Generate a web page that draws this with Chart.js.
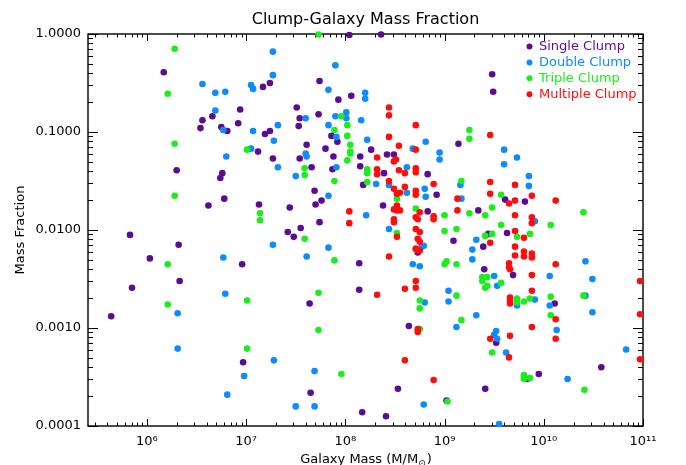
<!DOCTYPE html>
<html>
<head>
<meta charset="utf-8">
<script src="https://cdn.jsdelivr.net/npm/chart.js@4.4.1/dist/chart.umd.min.js"></script>
<style>
  body { margin: 0; background: #fff; }
</style>
</head>
<body>
<canvas id="massChart" width="686" height="465"></canvas>
<script>
const X_MIN = 2.55e5, X_MAX = 1e11;
const Y_MIN = 1e-4, Y_MAX = 1;
const xTickVals = [1e6, 1e7, 1e8, 1e9, 1e10, 1e11];
const xTickLabels = ['10⁶', '10⁷', '10⁸', '10⁹', '10¹⁰', '10¹¹'];
const yTickVals = [1e-4, 1e-3, 1e-2, 1e-1, 1];
const yTickLabels = ['0.0001', '0.0010', '0.0100', '0.1000', '1.0000'];

const groups = ['Single Clump', 'Double Clump', 'Triple Clump', 'Multiple Clump'];
const groupColors = ['#5c0c94', '#0d8bff', '#1ced1c', '#ff0d0d'];

// log10(galaxy mass) and log10(mass fraction)
const singleLogM = [
  6.17, 7.17, 7.24, 6.94, 6.66, 6.56, 6.54, 6.75, 6.81, 6.92,
  7.19, 7.24, 7.12, 7.27, 6.30, 6.76, 6.74, 6.62, 6.78, 7.13,
  5.83, 6.32, 6.03, 6.96, 6.33, 5.85, 5.64, 6.97, 7.65, 8.53,
  9.41, 8.17, 8.41, 9.02, 8.14, 7.64, 8.64, 8.04, 8.36, 7.74,
  7.93, 8.06, 7.51, 7.54, 7.53, 7.73, 7.86, 7.92, 7.61, 7.80,
  7.54, 7.88, 8.15, 8.26, 8.42, 8.49, 9.14, 7.66, 7.87, 8.15,
  8.39, 8.18, 8.83, 8.92, 7.69, 7.76, 7.70, 7.44, 8.38, 8.83,
  7.74, 9.09, 7.42, 7.55, 7.48, 8.73, 8.14, 9.48, 9.49, 9.61,
  9.81, 9.34, 9.63, 9.44, 9.39, 9.40, 9.69, 10.11, 9.52, 10.58,
  9.83, 9.95
];
const singleLogF = [
  -0.39, -0.54, -0.50, -0.77, -0.84, -0.88, -0.96, -0.95, -0.99, -0.91,
  -1.02, -0.99, -1.20, -1.27, -1.39, -1.42, -1.47, -1.75, -1.68, -1.74,
  -2.05, -2.15, -2.29, -2.35, -2.52, -2.59, -2.88, -3.35, -3.66, -3.62,
  -3.62, -3.86, -3.90, -3.74, -2.61, -2.75, -2.98, -0.01, -0.005, -0.48,
  -0.67, -0.63, -0.75, -0.86, -0.94, -0.82, -1.04, -1.10, -1.13, -1.17,
  -1.27, -1.25, -1.25, -1.18, -1.23, -1.23, -1.12, -1.36, -1.38, -1.35,
  -1.42, -1.54, -1.43, -1.64, -1.60, -1.70, -1.74, -1.77, -1.75, -1.81,
  -1.92, -2.11, -2.02, -1.98, -2.07, -2.23, -2.34, -0.41, -0.59, -1.69,
  -1.71, -1.80, -2.03, -2.04, -2.17, -2.40, -2.46, -2.75, -3.15, -3.40,
  -3.52, -3.47
];

const doubleLogM = [
  6.56, 6.69, 6.79, 7.27, 7.27, 7.05, 7.07, 6.69, 6.77, 7.07,
  7.32, 7.28, 7.05, 6.80, 7.32, 7.27, 6.77, 6.79, 6.31, 6.31,
  7.28, 6.98, 6.81, 7.50, 7.69, 8.79, 9.55, 9.04, 8.80, 9.04,
  9.12, 7.69, 7.90, 7.83, 8.20, 8.20, 7.60, 7.90, 8.01, 8.01,
  8.16, 7.83, 7.91, 8.22, 7.60, 7.61, 8.68, 8.81, 8.95, 8.95,
  7.91, 8.62, 7.50, 8.44, 8.31, 8.62, 8.80, 8.81, 9.16, 9.17,
  7.83, 8.21, 8.44, 8.77, 8.79, 7.83, 7.61, 8.68, 8.75, 9.60,
  9.73, 9.60, 9.85, 9.85, 9.91, 9.32, 9.28, 9.28, 10.42, 9.50,
  10.06, 10.49, 9.53, 9.91, 10.42, 9.73, 10.06, 10.49, 9.32, 10.13,
  9.52, 9.50, 9.53, 9.62, 10.83, 10.24
];
const doubleLogF = [
  -0.51, -0.60, -0.59, -0.18, -0.42, -0.52, -0.56, -0.78, -0.98, -0.99,
  -0.93, -1.09, -1.17, -1.25, -1.36, -2.15, -2.28, -2.65, -2.85, -3.21,
  -3.33, -3.49, -3.68, -3.80, -3.80, -3.78, -3.98, -2.62, -2.74, -2.73,
  -2.99, -3.44, -0.32, -0.57, -0.60, -0.66, -0.86, -0.84, -0.80, -0.86,
  -0.88, -0.93, -1.05, -1.08, -1.22, -1.25, -1.17, -1.10, -1.21, -1.28,
  -1.36, -1.36, -1.45, -1.54, -1.53, -1.62, -1.58, -1.66, -1.54, -1.68,
  -1.65, -1.85, -1.99, -2.17, -2.16, -2.18, -2.27, -2.35, -2.37, -1.18,
  -1.26, -1.33, -1.45, -1.55, -1.91, -2.10, -2.20, -2.30, -2.32, -2.47,
  -2.47, -2.50, -2.57, -2.71, -2.67, -2.77, -2.77, -2.84, -2.87, -3.02,
  -3.03, -3.07, -3.11, -3.25, -3.22, -3.52
];

const tripleLogM = [
  6.28, 6.21, 6.28, 7.01, 6.28, 7.14, 7.14, 6.21, 7.01, 6.21,
  7.01, 9.03, 10.41, 7.73, 9.12, 8.75, 8.75, 9.17, 8.75, 7.73,
  7.96, 7.73, 7.96, 8.02, 7.89, 9.25, 9.25, 8.02, 8.05, 8.05,
  8.05, 8.02, 7.59, 8.22, 7.59, 7.89, 8.22, 8.22, 9.17, 8.52,
  8.71, 9.00, 9.25, 8.52, 9.00, 9.12, 7.59, 8.71, 7.89, 9.00,
  9.02, 9.12, 9.57, 9.41, 9.48, 10.40, 9.57, 10.07, 9.73, 9.86,
  9.41, 9.48, 9.38, 9.43, 9.38, 9.41, 9.43, 9.57, 9.73, 9.86,
  10.07, 10.40, 9.73, 9.80, 10.07, 9.48, 9.80, 9.80, 9.86
];
const tripleLogF = [
  -0.15, -0.61, -1.12, -1.18, -1.65, -1.83, -1.90, -2.35, -2.72, -2.76,
  -3.21, -3.75, -3.63, -2.64, -2.67, -2.72, -2.80, -2.92, -3.01, -3.02,
  -3.47, -0.005, -0.84, -0.93, -0.98, -0.98, -1.07, -1.04, -1.13, -1.20,
  -1.22, -1.29, -1.37, -1.38, -1.44, -1.50, -1.42, -1.51, -1.50, -1.68,
  -1.78, -1.85, -1.83, -2.03, -2.01, -1.99, -2.09, -2.20, -2.31, -2.35,
  -2.32, -2.35, -1.64, -1.85, -1.77, -1.82, -1.95, -1.95, -2.07, -2.04,
  -2.06, -2.04, -2.48, -2.48, -2.52, -2.59, -2.57, -2.54, -2.70, -2.70,
  -2.68, -2.67, -2.74, -2.73, -2.87, -3.25, -3.48, -3.52, -3.51
];

const multipleLogM = [
  8.89, 8.32, 8.60, 8.71, 8.71, 8.73, 8.73, 8.60, 8.44, 8.44,
  8.71, 8.44, 8.54, 8.32, 8.51, 8.49, 8.71, 8.32, 8.71, 8.71,
  8.32, 8.54, 8.60, 8.44, 8.89, 8.60, 8.49, 8.52, 8.55, 8.71,
  8.71, 9.13, 8.52, 8.49, 8.52, 8.55, 8.75, 8.71, 8.73, 8.89,
  8.89, 9.13, 8.04, 8.04, 8.49, 8.49, 8.52, 8.71, 8.75, 8.73,
  8.75, 8.71, 8.73, 8.75, 8.44, 9.46, 9.46, 9.71, 9.46, 9.88,
  9.65, 9.71, 10.12, 9.71, 9.88, 9.88, 9.71, 9.80, 9.46, 9.71,
  9.80, 9.80, 9.88, 9.88, 9.71, 9.65, 9.65, 9.66, 10.12, 9.88,
  10.97, 9.88, 9.66, 9.66, 9.66, 10.97, 10.12, 9.88, 10.12, 9.46,
  9.66, 9.65, 10.97
];
const multipleLogF = [
  -3.53, -2.66, -2.60, -2.59, -2.52, -3.01, -3.04, -3.33, -0.75, -0.83,
  -0.93, -1.05, -1.14, -1.26, -1.28, -1.30, -1.18, -1.38, -1.37, -1.41,
  -1.43, -1.39, -1.42, -1.50, -1.53, -1.56, -1.58, -1.63, -1.62, -1.60,
  -1.64, -1.68, -1.75, -1.79, -1.80, -1.80, -1.82, -1.87, -1.89, -1.86,
  -1.89, -1.80, -1.81, -1.93, -1.89, -1.92, -2.07, -1.99, -2.02, -2.09,
  -2.12, -2.19, -2.21, -2.21, -2.27, -1.03, -1.51, -1.54, -1.63, -1.65,
  -1.73, -1.70, -1.70, -1.85, -1.87, -1.93, -2.01, -2.08, -2.13, -2.17,
  -2.22, -2.27, -2.24, -2.28, -2.26, -2.34, -2.38, -2.40, -2.35, -2.46,
  -2.52, -2.62, -2.69, -2.72, -2.75, -2.86, -2.91, -2.99, -3.11, -3.11,
  -3.08, -3.30, -3.32
];

const FONT = '"DejaVu Sans", sans-serif';

function toPoints(logM, logF) {
    return logM.map((m, i) => ({ x: 10 ** m, y: 10 ** logF[i] }));
}

const seriesM = [singleLogM, doubleLogM, tripleLogM, multipleLogM];
const seriesF = [singleLogF, doubleLogF, tripleLogF, multipleLogF];

// later groups sit on top, like the original plot order
const datasets = groups.map((g, i) => ({
    label: g,
    data: toPoints(seriesM[i], seriesF[i]),
    backgroundColor: groupColors[i],
    borderWidth: 0,
    pointRadius: 3.3,
    pointHoverRadius: 3.3,
    clip: false,
    order: groups.length - i
}));

const axesFrame = {
    id: 'axesFrame',
    beforeDatasetsDraw(chart) {
        const { ctx, chartArea: a, scales: { x, y } } = chart;
        ctx.save();
        ctx.strokeStyle = '#000';
        ctx.lineWidth = 1;
        ctx.beginPath();
        for (let d = 5; d <= 11; d++) {
            for (let k = 1; k <= 9; k++) {
                const v = k * 10 ** d;
                if (v < X_MIN || v > X_MAX * 1.0001) continue;
                const px = Math.round(x.getPixelForValue(v)) + 0.5;
                const len = k === 1 ? 7 : 3.5;
                ctx.moveTo(px, a.bottom); ctx.lineTo(px, a.bottom - len);
                ctx.moveTo(px, a.top); ctx.lineTo(px, a.top + len);
            }
        }
        for (let d = -4; d <= 0; d++) {
            for (let k = 1; k <= 9; k++) {
                const v = k * 10 ** d;
                if (v < Y_MIN * 0.9999 || v > Y_MAX * 1.0001) continue;
                const py = Math.round(y.getPixelForValue(v)) + 0.5;
                const len = k === 1 ? 10 : 5;
                ctx.moveTo(a.left, py); ctx.lineTo(a.left + len, py);
                ctx.moveTo(a.right, py); ctx.lineTo(a.right - len, py);
            }
        }
        ctx.stroke();
        ctx.lineWidth = 1.4;
        ctx.strokeRect(a.left, a.top, a.right - a.left, a.bottom - a.top);
        ctx.restore();
    },
    afterDraw(chart) {
        const { ctx, chartArea: a } = chart;
        const cx = (a.left + a.right) / 2;
        ctx.save();
        ctx.fillStyle = '#000';

        // title
        ctx.font = '16px ' + FONT;
        ctx.textAlign = 'center';
        ctx.textBaseline = 'alphabetic';
        ctx.fillText('Clump-Galaxy Mass Fraction', cx, 24);

        // x title with subscript sun symbol
        ctx.font = '13px ' + FONT;
        const p1 = 'Galaxy Mass (M/M', p2 = '⊙', p3 = ')';
        ctx.textAlign = 'left';
        const w1 = ctx.measureText(p1).width;
        const w3 = ctx.measureText(p3).width;
        ctx.font = '9px ' + FONT;
        const w2 = ctx.measureText(p2).width;
        let tx = cx - (w1 + w2 + w3) / 2;
        ctx.font = '13px ' + FONT;
        ctx.fillText(p1, tx, 463);
        ctx.font = '9px ' + FONT;
        ctx.fillText(p2, tx + w1, 466);
        ctx.font = '13px ' + FONT;
        ctx.fillText(p3, tx + w1 + w2 + 1, 463);

        // y title
        ctx.translate(21, (a.top + a.bottom) / 2);
        ctx.rotate(-Math.PI / 2);
        ctx.textAlign = 'center';
        ctx.textBaseline = 'middle';
        ctx.fillText('Mass Fraction', 0, 0);
        ctx.restore();

        // legend
        ctx.save();
        ctx.font = '13px ' + FONT;
        ctx.textBaseline = 'middle';
        groups.forEach((g, i) => {
            const ly = 46.5 + i * 15.9;
            ctx.fillStyle = groupColors[i];
            ctx.beginPath();
            ctx.arc(529.5, ly, 3, 0, 2 * Math.PI);
            ctx.fill();
            ctx.fillText(g, 539, ly + 0.5);
        });
        ctx.restore();
    }
};

new Chart(document.getElementById('massChart'), {
    type: 'scatter',
    data: { datasets },
    options: {
        responsive: false,
        animation: false,
        devicePixelRatio: 1,
        layout: { padding: { top: 34, right: 43, bottom: 0, left: 0 } },
        plugins: {
            legend: { display: false },
            tooltip: { enabled: false },
            title: { display: false }
        },
        scales: {
            x: {
                type: 'logarithmic',
                min: X_MIN,
                max: X_MAX,
                grid: { display: false, drawTicks: false },
                border: { display: false },
                afterBuildTicks: s => { s.ticks = xTickVals.map(v => ({ value: v })); },
                afterFit: s => { s.height = 39; },
                ticks: {
                    autoSkip: false,
                    maxRotation: 0,
                    padding: 8,
                    color: '#000',
                    font: { family: FONT, size: 13 },
                    callback: (v, i) => xTickLabels[i]
                }
            },
            y: {
                type: 'logarithmic',
                min: Y_MIN,
                max: Y_MAX,
                grid: { display: false, drawTicks: false },
                border: { display: false },
                afterBuildTicks: s => { s.ticks = yTickVals.map(v => ({ value: v })); },
                afterFit: s => { s.width = 88; },
                ticks: {
                    autoSkip: false,
                    padding: 7,
                    color: '#000',
                    font: { family: FONT, size: 13 },
                    callback: (v, i) => yTickLabels[i]
                }
            }
        }
    },
    plugins: [axesFrame]
});
</script>
</body>
</html>
